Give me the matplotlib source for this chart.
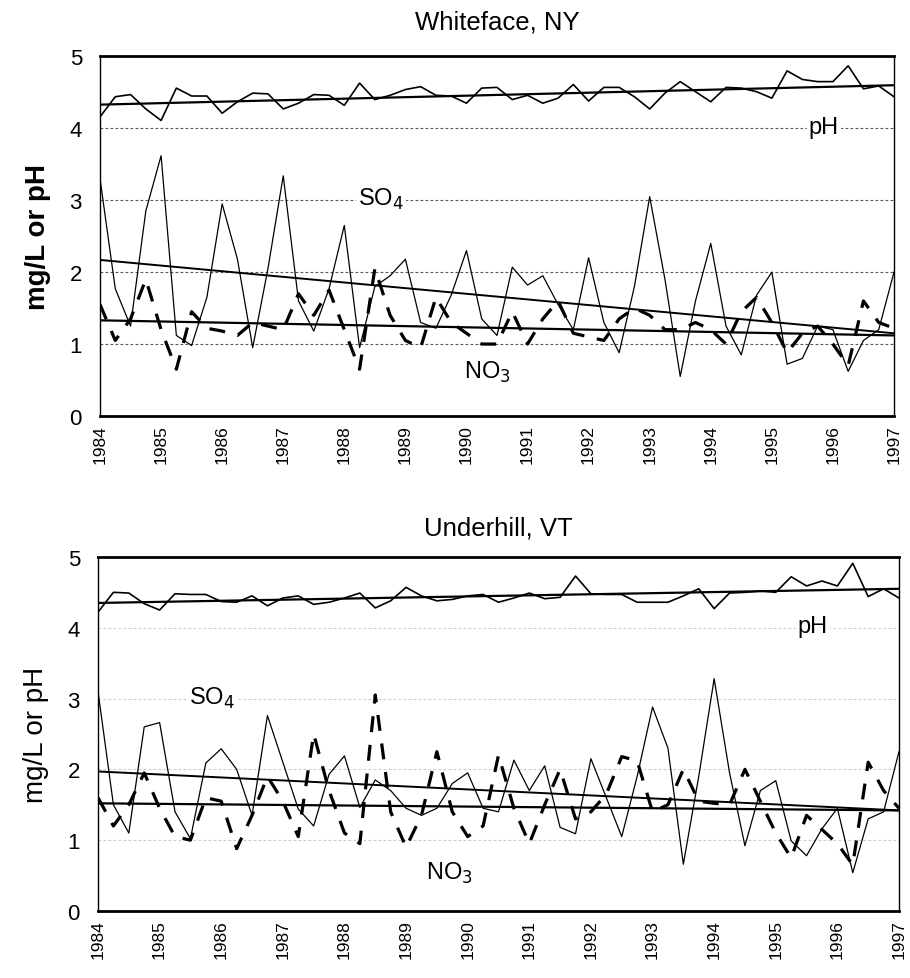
import matplotlib
matplotlib.use("Agg")
import matplotlib.pyplot as plt
import numpy as np

plt.rcParams['font.family'] = ['Liberation Sans', 'DejaVu Sans']

# ---------------- data (quarterly, 1984.00 .. 1997.00) ----------------
start_year = 1984
n_quarters = 53
years = [start_year + q / 4 for q in range(n_quarters)]
tick_years = list(range(1984, 1998))
tick_labels = [str(y) for y in tick_years]
y_ticks = [0, 1, 2, 3, 4, 5]

# Whiteface, NY
wf_ph = [4.16, 4.44, 4.47, 4.27, 4.11, 4.56, 4.45, 4.45, 4.21, 4.37,
         4.49, 4.48, 4.27, 4.35, 4.47, 4.46, 4.32, 4.63, 4.40, 4.46,
         4.54, 4.58, 4.46, 4.45, 4.35, 4.56, 4.57, 4.40, 4.46, 4.35,
         4.42, 4.61, 4.38, 4.57, 4.57, 4.44, 4.27, 4.49, 4.65, 4.51,
         4.37, 4.57, 4.56, 4.51, 4.42, 4.80, 4.68, 4.65, 4.65, 4.87,
         4.55, 4.59, 4.44]
wf_so4 = [3.30, 1.77, 1.25, 2.85, 3.62, 1.12, 0.98, 1.65, 2.95, 2.18,
          0.95, 2.05, 3.34, 1.60, 1.18, 1.77, 2.65, 0.95, 1.80, 1.95,
          2.18, 1.30, 1.22, 1.68, 2.30, 1.35, 1.12, 2.07, 1.82, 1.95,
          1.55, 1.20, 2.20, 1.30, 0.88, 1.80, 3.05, 1.90, 0.55, 1.60,
          2.40, 1.25, 0.85, 1.68, 2.00, 0.72, 0.80, 1.25, 1.20, 0.62,
          1.05, 1.20, 2.00]
wf_no3 = [1.55, 1.05, 1.35, 1.90, 1.20, 0.65, 1.45, 1.22, 1.18, 1.12,
          1.30, 1.25, 1.20, 1.70, 1.40, 1.75, 1.20, 0.65, 2.05, 1.40,
          1.05, 0.95, 1.65, 1.30, 1.15, 1.00, 1.00, 1.45, 1.00, 1.35,
          1.60, 1.15, 1.10, 1.05, 1.35, 1.50, 1.40, 1.20, 1.20, 1.30,
          1.20, 1.00, 1.45, 1.65, 1.30, 0.88, 1.15, 1.25, 1.00, 0.70,
          1.60, 1.30, 1.22]
wf_trend_years = [1984, 1997]
wf_ph_trend = [4.33, 4.60]
wf_so4_trend = [2.17, 1.15]
wf_no3_trend = [1.33, 1.12]

# Underhill, VT
uh_ph = [4.22, 4.50, 4.49, 4.34, 4.25, 4.48, 4.47, 4.47, 4.37, 4.36,
         4.45, 4.31, 4.42, 4.45, 4.33, 4.36, 4.42, 4.49, 4.28, 4.38,
         4.57, 4.45, 4.38, 4.40, 4.45, 4.47, 4.36, 4.42, 4.49, 4.41,
         4.43, 4.73, 4.48, 4.47, 4.47, 4.36, 4.36, 4.36, 4.45, 4.55,
         4.27, 4.49, 4.50, 4.52, 4.50, 4.72, 4.59, 4.66, 4.59, 4.91,
         4.44, 4.55, 4.42]
uh_so4 = [3.10, 1.50, 1.10, 2.60, 2.66, 1.40, 1.02, 2.09, 2.29, 2.00,
          1.35, 2.76, 2.10, 1.44, 1.20, 1.93, 2.19, 1.46, 1.85, 1.70,
          1.45, 1.35, 1.45, 1.80, 1.95, 1.45, 1.40, 2.13, 1.70, 2.05,
          1.18, 1.09, 2.15, 1.60, 1.05, 1.90, 2.88, 2.30, 0.66, 1.90,
          3.28, 1.95, 0.92, 1.70, 1.84, 0.99, 0.78, 1.16, 1.45, 0.54,
          1.30, 1.40, 2.25]
uh_no3 = [1.60, 1.20, 1.50, 1.95, 1.45, 1.05, 1.00, 1.60, 1.55, 0.88,
          1.35, 1.90, 1.55, 1.05, 2.50, 1.70, 1.10, 0.95, 3.05, 1.40,
          0.90, 1.35, 2.25, 1.40, 1.05, 1.20, 2.20, 1.45, 0.95, 1.50,
          2.00, 1.30, 1.40, 1.65, 2.18, 2.12, 1.40, 1.50, 2.00, 1.55,
          1.52, 1.50, 2.00, 1.55, 1.10, 0.75, 1.35, 1.15, 0.95, 0.65,
          2.10, 1.70, 1.45]
uh_trend_years = [1984, 1997]
uh_ph_trend = [4.35, 4.55]
uh_so4_trend = [1.97, 1.42]
uh_no3_trend = [1.52, 1.42]

panels = [
    dict(title="Whiteface, NY", ph=wf_ph, so4=wf_so4, no3=wf_no3,
         ph_t=wf_ph_trend, so4_t=wf_so4_trend, no3_t=wf_no3_trend,
         ty=wf_trend_years,
         ph_lab=(1995.85, 4.02), so4_lab=(1988.6, 3.02), no3_lab=(1990.35, 0.62),
         grid_color='0.35', ylab_weight='bold', title_pad=20),
    dict(title="Underhill, VT", ph=uh_ph, so4=uh_so4, no3=uh_no3,
         ph_t=uh_ph_trend, so4_t=uh_so4_trend, no3_t=uh_no3_trend,
         ty=uh_trend_years,
         ph_lab=(1995.6, 4.02), so4_lab=(1985.85, 3.02), no3_lab=(1989.7, 0.55),
         grid_color='0.8', ylab_weight='normal', title_pad=16),
]

fig = plt.figure(figsize=(9.10, 9.79), dpi=100)
rects = [[0.1099, 0.5741, 0.8725, 0.3672],
         [0.1077, 0.0685, 0.8802, 0.3616]]

for p, r in zip(panels, rects):
    ax = fig.add_axes(r)
    ax.set_xlim(1984, 1997)
    ax.set_ylim(0, 5)
    for g in [1, 2, 3, 4]:
        ax.axhline(g, color=p['grid_color'], lw=0.8, ls=(0, (2.5, 2)), zorder=1)
    ax.plot(years, p['ph'], color='black', lw=1.2, zorder=3)
    ax.plot(years, p['so4'], color='black', lw=0.9, zorder=3)
    ax.plot(years, p['no3'], color='black', lw=2.3, ls=(0, (5, 4)), zorder=3)
    ax.plot(p['ty'], p['ph_t'], color='black', lw=1.6, zorder=4)
    ax.plot(p['ty'], p['so4_t'], color='black', lw=1.4, zorder=4)
    ax.plot(p['ty'], p['no3_t'], color='black', lw=1.6, zorder=4)

    bb = dict(facecolor='white', edgecolor='none', pad=1.5)
    ax.text(*p['ph_lab'], "pH", fontsize=17, ha='center', va='center', bbox=bb, zorder=5)
    ax.text(*p['so4_lab'], r"SO$_4$", fontsize=17, ha='center', va='center', bbox=bb, zorder=5)
    ax.text(*p['no3_lab'], r"NO$_3$", fontsize=17, ha='center', va='center', zorder=5)

    ax.set_xticks(tick_years)
    ax.set_xticklabels(tick_labels, rotation=90, fontsize=12.5)
    ax.set_yticks(y_ticks)
    ax.set_yticklabels([str(v) for v in y_ticks], fontsize=16)
    ax.tick_params(axis='both', length=0)
    ax.tick_params(axis='y', pad=13)
    ax.tick_params(axis='x', pad=6)
    ax.set_title(p['title'], fontsize=18.5, pad=p['title_pad'])
    ax.set_ylabel("mg/L or pH", fontsize=20, fontweight=p['ylab_weight'], labelpad=13)
    for side in ['top', 'bottom']:
        ax.spines[side].set_linewidth(2.0)
    for side in ['left', 'right']:
        ax.spines[side].set_linewidth(1.0)

fig.savefig("out.png", dpi=100)
